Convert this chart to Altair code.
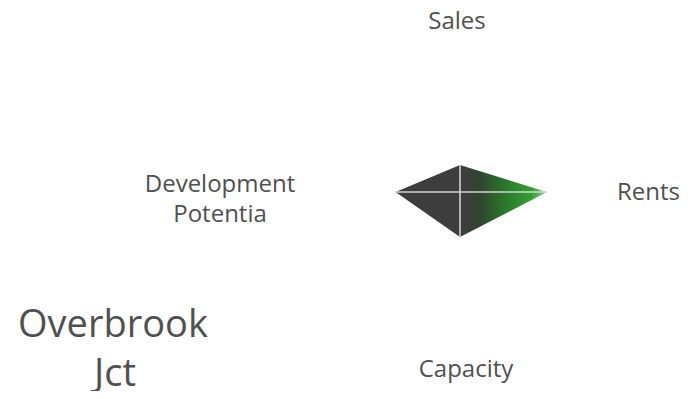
import altair as alt
import pandas as pd

# ---- data ----
axes_names = ["Sales", "Rents", "Capacity", "Development Potentia"]
axes_angles = [0, 90, 180, 270]          # clockwise from top, degrees
scores = [1.8, 5.8, 3.0, 4.3]
title_lines = ["Overbrook", "Jct"]

# ---- style / layout ----
PX = 15                 # pixels per score unit
FONT = "Open Sans"
TXT = "#505050"
label_layout = {        # (dx, dy, align) of each label line, relative to centre
    "Sales": [(-3, 163, "center")],
    "Rents": [(157, -8, "left")],
    "Capacity": [(6, -185, "center")],
    "Development Potentia": [(-240, 0, "center"), (-240, -30, "center")],
}
title_layout = [(-347, -145), (-345, -194)]

df = pd.DataFrame({"axis": axes_names, "angle": axes_angles,
                   "value": scores, "order": list(range(len(scores)))})

lab_rows = []
for name in axes_names:
    words = name.split(" ")
    for (dx, dy, al), w in zip(label_layout[name], words):
        lab_rows.append({"text": w, "lx": dx, "ly": dy, "al": al})
labdf = pd.DataFrame(lab_rows)
titdf = pd.DataFrame({"text": title_lines,
                      "lx": [p[0] for p in title_layout],
                      "ly": [p[1] for p in title_layout]})

xs = alt.Scale(domain=[-452, 228])
ys = alt.Scale(domain=[-199, 184])

base = alt.Chart(df).transform_calculate(
    x=f"datum.value*{PX}*sin(datum.angle*PI/180)",
    y=f"datum.value*{PX}*cos(datum.angle*PI/180)",
)

grad = alt.LinearGradient(
    gradient="linear", x1=0, x2=1, y1=0.5, y2=0.5,
    stops=[
        alt.GradientStop(color="#3d3d3d", offset=0),
        alt.GradientStop(color="#3d3d3d", offset=0.44),
        alt.GradientStop(color="#304530", offset=0.56),
        alt.GradientStop(color="#2a772a", offset=0.72),
        alt.GradientStop(color="#33a033", offset=0.9),
        alt.GradientStop(color="#8ccc8c", offset=1),
    ],
)

poly = base.mark_line(interpolate="linear-closed", fill=grad,
                      strokeWidth=0, strokeOpacity=0).encode(
    x=alt.X("x:Q", scale=xs, axis=None),
    y=alt.Y("y:Q", scale=ys, axis=None),
    order="order:Q",
)

spokes = base.mark_rule(color="#e0e0e0", strokeWidth=1.6, opacity=0.9).encode(
    x=alt.X("x:Q", scale=xs, axis=None),
    y=alt.Y("y:Q", scale=ys, axis=None),
    x2=alt.datum(0),
    y2=alt.datum(0),
)

label_layers = []
for al in ["left", "center", "right"]:
    sub = labdf[labdf["al"] == al]
    if len(sub) == 0:
        continue
    label_layers.append(
        alt.Chart(sub).mark_text(
            font=FONT, fontSize=24, color=TXT, baseline="alphabetic", align=al
        ).encode(
            x=alt.X("lx:Q", scale=xs, axis=None),
            y=alt.Y("ly:Q", scale=ys, axis=None),
            text="text:N",
        )
    )

title = alt.Chart(titdf).mark_text(
    font=FONT, fontSize=38, color=TXT, baseline="alphabetic", align="center"
).encode(
    x=alt.X("lx:Q", scale=xs, axis=None),
    y=alt.Y("ly:Q", scale=ys, axis=None),
    text="text:N",
)

chart = alt.layer(poly, spokes, *label_layers, title).properties(
    width=680, height=383,
    autosize=alt.AutoSizeParams(type="none"),
    padding=0,
    background="white",
).configure_view(strokeWidth=0, stroke="transparent")

chart.save("out.html", embed_options={"renderer": "svg", "actions": False})
